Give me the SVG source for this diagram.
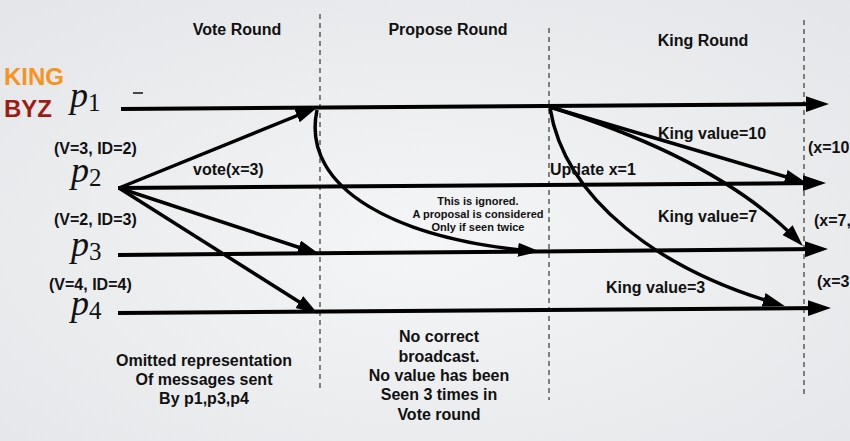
<svg xmlns="http://www.w3.org/2000/svg" width="850" height="441" viewBox="0 0 850 441">
<defs>
<radialGradient id="bg" cx="50%" cy="55%" r="75%">
<stop offset="0" stop-color="#f4f5f6"/>
<stop offset="1" stop-color="#e3e5e8"/>
</radialGradient>
<marker id="ah" markerUnits="userSpaceOnUse" markerWidth="24" markerHeight="18" viewBox="0 0 24 18" refX="16" refY="8" orient="auto">
<path d="M0,0 L23,8 L0,16 z" fill="#000"/>
</marker>
<marker id="ahs" markerUnits="userSpaceOnUse" markerWidth="24" markerHeight="16" viewBox="0 0 24 16" refX="15" refY="7" orient="auto">
<path d="M0,0 L22,7 L0,14 z" fill="#000"/>
</marker>
</defs>
<style>
.t{font-family:"Liberation Sans",Arial,sans-serif;font-weight:bold;fill:#111;}
.lbl{font-size:16px;}
.sm{font-size:11px;}
.bt{font-size:16px;}
.pn{font-family:"Liberation Serif","Times New Roman",serif;font-style:italic;font-size:36px;fill:#111;}
.sub{font-style:normal;font-size:25px;}
.proc{stroke:#000;stroke-width:4;fill:none;marker-end:url(#ah);}
.msg{stroke:#000;stroke-width:3.5;fill:none;marker-end:url(#ahs);}
.dash{stroke:#444;stroke-width:1.3;stroke-dasharray:5 4;fill:none;}
</style>
<rect width="850" height="441" fill="url(#bg)"/>

<g id="rounds">
<line class="dash" x1="320" y1="14" x2="320" y2="388"/>
<line class="dash" x1="549" y1="28" x2="549" y2="400"/>
<line class="dash" x1="804" y1="20" x2="804" y2="396"/>
<text class="t lbl" x="237" y="35" text-anchor="middle">Vote Round</text>
<text class="t lbl" x="448" y="35" text-anchor="middle">Propose Round</text>
<text class="t lbl" x="703" y="46" text-anchor="middle">King Round</text>
</g>

<g id="legend">
<text x="4" y="85" font-family="Liberation Sans,Arial,sans-serif" font-weight="bold" font-size="24" fill="#f7941d">KING</text>
<text x="4" y="117" font-family="Liberation Sans,Arial,sans-serif" font-weight="bold" font-size="24" fill="#9e1b14">BYZ</text>
</g>

<g id="p1">
<text class="pn" x="70" y="107">p<tspan class="sub" dy="4">1</tspan></text>
<line x1="133" y1="93" x2="143" y2="93" stroke="#111" stroke-width="1.5"/>
<path class="proc" d="M121,109 L822,104"/>
</g>

<g id="p2">
<text class="t lbl" x="54" y="154">(V=3, ID=2)</text>
<text class="pn" x="71" y="182">p<tspan class="sub" dy="4">2</tspan></text>
<path class="proc" d="M118,188 L819,183"/>
<text class="t lbl" x="808" y="153">(x=10,</text>
</g>

<g id="p3">
<text class="t lbl" x="54" y="225">(V=2, ID=3)</text>
<text class="pn" x="71" y="256">p<tspan class="sub" dy="4">3</tspan></text>
<path class="proc" d="M118,255 L821,249"/>
<text class="t lbl" x="814" y="226">(x=7,</text>
</g>

<g id="p4">
<text class="t lbl" x="49" y="290">(V=4, ID=4)</text>
<text class="pn" x="71" y="315">p<tspan class="sub" dy="4">4</tspan></text>
<path class="proc" d="M118,313 L824,308"/>
<text class="t lbl" x="817" y="287">(x=3,</text>
</g>

<g id="connectors">
<path class="msg" d="M119,188 L311,110"/>
<path class="msg" d="M119,188 L313,252"/>
<path class="msg" d="M119,188 L312,310"/>
<path class="msg" d="M317,110 C300,190 400,240 533,251"/>
<path class="msg" d="M550,107 L800,181"/>
<path class="msg" d="M550,107 Q720,160 798,241"/>
<path class="msg" d="M550,108 C565,200 660,270 778,304"/>
</g>

<g id="labels">
<text class="t lbl" x="193" y="175">vote(x=3)</text>
<text class="t lbl" x="550" y="175">Update x=1</text>
<text class="t lbl" x="658" y="139">King value=10</text>
<text class="t lbl" x="658" y="222">King value=7</text>
<text class="t lbl" x="606" y="293">King value=3</text>
<text class="t sm" text-anchor="middle"><tspan x="478" y="205">This is ignored.</tspan><tspan x="478" y="218">A proposal is considered</tspan><tspan x="478" y="231">Only if seen twice</tspan></text>
<text class="t bt" text-anchor="middle"><tspan x="204" y="366">Omitted representation</tspan><tspan x="204" y="385">Of messages sent</tspan><tspan x="204" y="404">By p1,p3,p4</tspan></text>
<text class="t bt" text-anchor="middle"><tspan x="439" y="342">No correct</tspan><tspan x="439" y="362">broadcast.</tspan><tspan x="439" y="381">No value has been</tspan><tspan x="439" y="400">Seen 3 times in</tspan><tspan x="439" y="420">Vote round</tspan></text>
</g>
</svg>
